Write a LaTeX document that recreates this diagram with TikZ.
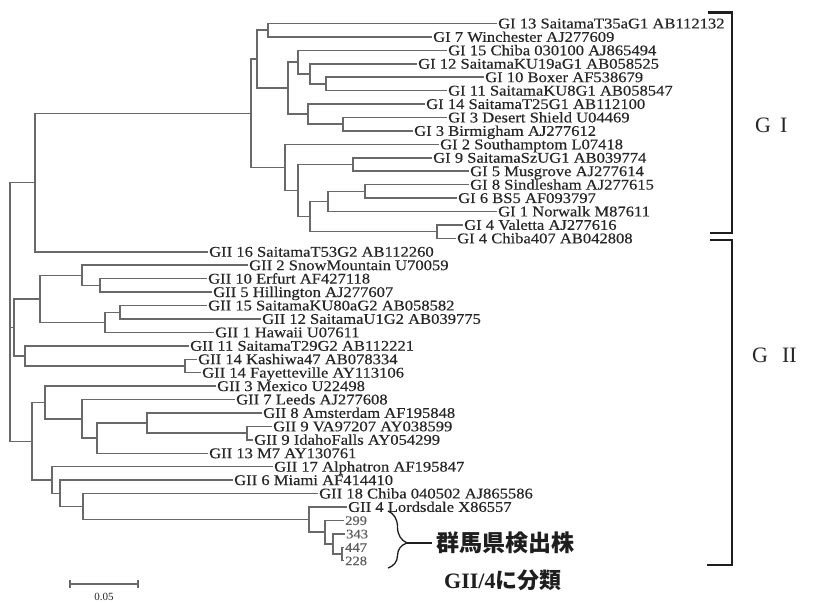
\documentclass[tikz,border=0pt]{standalone}
\usepackage{fontspec}
\setmainfont{Liberation Serif}
\newfontfamily\treefont[FakeStretch=1.12,FakeBold=0.35]{Liberation Serif}
\newfontfamily\cjkfont{Noto Sans CJK JP}
\usetikzlibrary{decorations.pathreplacing}
\definecolor{treegray}{RGB}{105,105,105}
\definecolor{inkgray}{RGB}{38,38,38}
\definecolor{darkink}{RGB}{30,30,30}
\definecolor{numgray}{RGB}{95,95,95}
\begin{document}
\begin{tikzpicture}[x=1pt,y=-1pt,
  br/.style={draw=treegray, line width=1.5pt},
  bk/.style={draw=darkink, line width=2.6pt},
  lab/.style={anchor=base west, inner sep=0pt, text=inkgray, font=\treefont\fontsize{14.8}{14.8}\selectfont},
  numlab/.style={anchor=base west, inner sep=0pt, text=numgray, font=\treefont\fontsize{13}{13}\selectfont}]
\useasboundingbox[fill=white] (0,0) rectangle (818,602);
% leaves
\foreach \i/\xx/\t in {
 1/497/{GI 13 SaitamaT35aG1 AB112132},
 2/432/{GI 7 Winchester AJ277609},
 3/447/{GI 15 Chiba 030100 AJ865494},
 4/417/{GI 12 SaitamaKU19aG1 AB058525},
 5/484/{GI 10 Boxer AF538679},
 6/447/{GI 11 SaitamaKU8G1 AB058547},
 7/425/{GI 14 SaitamaT25G1 AB112100},
 8/447/{GI 3 Desert Shield U04469},
 9/413/{GI 3 Birmigham AJ277612},
 10/439/{GI 2 Southamptom L07418},
 11/432/{GI 9 SaitamaSzUG1 AB039774},
 12/469/{GI 5 Musgrove AJ277614},
 13/469/{GI 8 Sindlesham AJ277615},
 14/457/{GI 6 BS5 AF093797},
 15/497/{GI 1 Norwalk M87611},
 16/463/{GI 4 Valetta AJ277616},
 17/456/{GI 4 Chiba407 AB042808},
 18/208/{GII 16 SaitamaT53G2 AB112260},
 19/248/{GII 2 SnowMountain U70059},
 20/207/{GII 10 Erfurt AF427118},
 21/212/{GII 5 Hillington AJ277607},
 22/207/{GII 15 SaitamaKU80aG2 AB058582},
 23/261/{GII 12 SaitamaU1G2 AB039775},
 24/214/{GII 1 Hawaii U07611},
 25/189/{GII 11 SaitamaT29G2 AB112221},
 26/197/{GII 14 Kashiwa47 AB078334},
 27/201/{GII 14 Fayetteville AY113106},
 28/216/{GII 3 Mexico U22498},
 29/235/{GII 7 Leeds AJ277608},
 30/262/{GII 8 Amsterdam AF195848},
 31/272/{GII 9 VA97207 AY038599},
 32/253/{GII 9 IdahoFalls AY054299},
 33/208/{GII 13 M7 AY130761},
 34/273/{GII 17 Alphatron AF195847},
 35/233/{GII 6 Miami AF414410},
 36/318/{GII 18 Chiba 040502 AJ865586},
 37/347/{GII 4 Lordsdale X86557}} {
  \pgfmathsetmacro\yy{23.5+13.43*(\i-1)}
  \coordinate (l\i) at (\xx,\yy);
  \node[lab] (t\i) at (\xx+1,\yy+4.9) {\t};
}
\foreach \i/\xx/\t in {38/344/299, 39/345/343, 40/344/447, 41/344/228} {
  \pgfmathsetmacro\yy{23.5+13.43*(\i-1)}
  \coordinate (l\i) at (\xx,\yy);
  \node[numlab] (t\i) at (\xx+1,\yy+4.5) {\t};
}
% internal nodes
\coordinate (root) at (10,312);
\coordinate (nA) at (35,182.6);
\coordinate (nGI) at (251,113.4);
\coordinate (n257) at (257,59.2);
\coordinate (n137) at (268,30.2);
\coordinate (n287) at (288,88.2);
\coordinate (n15) at (298,62.2);
\coordinate (n12) at (310,73.9);
\coordinate (nBox) at (326,84.0);
\coordinate (n14) at (308,114.2);
\coordinate (nDS) at (343,124.2);
\coordinate (n285) at (285,167.5);
\coordinate (n298) at (298,190.6);
\coordinate (n9) at (353,164.5);
\coordinate (n310) at (310,216.6);
\coordinate (n328) at (328,201.5);
\coordinate (nSin) at (365,191.4);
\coordinate (nVal) at (437,231.7);
\coordinate (nB) at (14,327.4);
\coordinate (n40) at (40,298.8);
\coordinate (nSnow) at (82,275.3);
\coordinate (nEH) at (100,285.4);
\coordinate (nHaw) at (105,322.3);
\coordinate (n15b) at (120,312.3);
\coordinate (n25) at (25,355.9);
\coordinate (nKas) at (185,366.0);
\coordinate (nC) at (32,441.3);
\coordinate (n45) at (45,402.5);
\coordinate (n82) at (82,418.9);
\coordinate (n97) at (97,438.2);
\coordinate (nAms) at (147,423.1);
\coordinate (nVA) at (247,433.1);
\coordinate (n52) at (52,480.1);
\coordinate (n60) at (60,493.4);
\coordinate (n83) at (83,506.6);
\coordinate (nq1) at (309,519.6);
\coordinate (nq2) at (325,532.2);
\coordinate (nq3) at (333,543.9);
\coordinate (nq4) at (342,554.0);
% edges
\foreach \p/\c in {root/nA, root/nB, root/nC,
  nA/nGI, nA/l18, nGI/n257, nGI/n285, n257/n137, n257/n287, n137/l1, n137/l2,
  n287/n15, n287/n14, n15/l3, n15/n12, n12/l4, n12/nBox, nBox/l5, nBox/l6,
  n14/l7, n14/nDS, nDS/l8, nDS/l9, n285/l10, n285/n298, n298/n9, n298/n310,
  n9/l11, n9/l12, n310/n328, n310/nVal, n328/nSin, n328/l15, nSin/l13, nSin/l14,
  nVal/l16, nVal/l17,
  nB/n40, nB/n25, n40/nSnow, n40/nHaw, nSnow/l19, nSnow/nEH, nEH/l20, nEH/l21,
  nHaw/n15b, nHaw/l24, n15b/l22, n15b/l23, n25/l25, n25/nKas, nKas/l26, nKas/l27,
  nC/n45, nC/n52, n45/l28, n45/n82, n82/l29, n82/n97, n97/nAms, n97/l33,
  nAms/l30, nAms/nVA, nVA/l31, nVA/l32, n52/l34, n52/n60, n60/l35, n60/n83,
  n83/l36, n83/nq1, nq1/l37, nq1/nq2, nq2/l38, nq2/nq3, nq3/l39, nq3/nq4,
  nq4/l40, nq4/l41}
  \draw[br] (\p) |- (\c);
% genogroup brackets
\draw[bk] (708,12.5) -- (732,12.5) -- (732,233) -- (710,233);
\draw[bk] (710,240) -- (732,240) -- (732,565) -- (707,565);
\node[anchor=west, inner sep=0pt, text=inkgray, font=\fontsize{22}{22}\selectfont] (g1) at (755,125) {G\hspace{9pt}I};
\node[anchor=west, inner sep=0pt, text=inkgray, font=\fontsize{22}{22}\selectfont] (g2) at (752,355) {G\hspace{14pt}II};
% brace for Gunma strains
\coordinate (bt) at (388,511);
\coordinate (bb) at (388,568);
\draw[draw=darkink, line width=1.3pt, decorate, decoration={brace, amplitude=19pt, aspect=0.56}] (bt) -- (bb);
\coordinate (tip) at (407,543);
\coordinate (tipend) at (432,543);
\draw[draw=darkink, line width=1.3pt] (tip) -- (tipend);
\node[anchor=west, inner sep=0pt, text=darkink, font=\cjkfont\bfseries\fontsize{23}{23}\selectfont] (gunma) at (436,543) {群馬県検出株};
\node[anchor=west, inner sep=0pt, text=darkink, font=\fontsize{22}{22}\selectfont\bfseries] (cls) at (444,580) {GII/4{\cjkfont に分類}};
% scale bar
\coordinate (sb1) at (70,584);
\coordinate (sb2) at (138,584);
\draw[br, line width=1.2pt] (sb1) -- (sb2);
\draw[br, line width=1.2pt] (70,580) -- (70,588);
\draw[br, line width=1.2pt] (138,580) -- (138,588);
\node[inner sep=0pt, text=inkgray, font=\fontsize{11}{11}\selectfont] (sbl) at (104,597) {0.05};
\end{tikzpicture}
\end{document}
